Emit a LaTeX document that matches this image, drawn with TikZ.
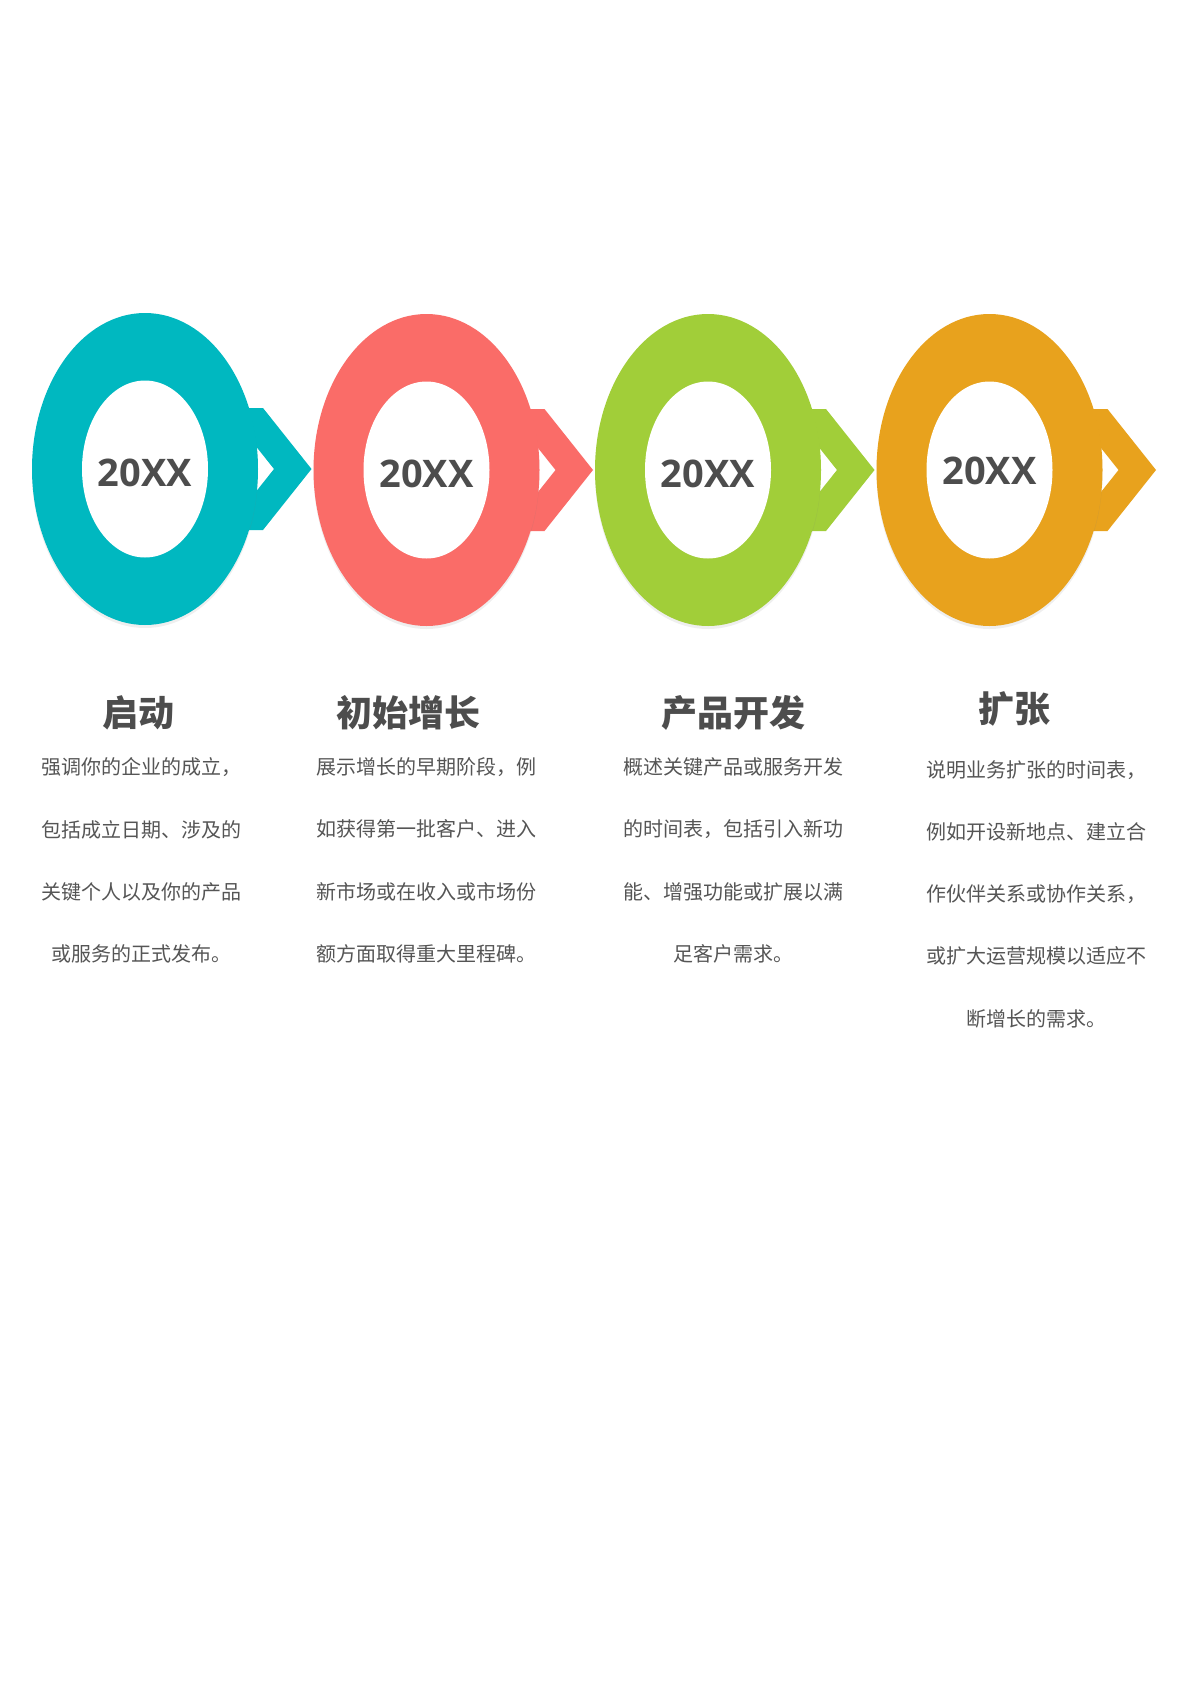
\documentclass[tikz,border=0pt]{standalone}
\usepackage{fontspec}
\newfontfamily\cjk{Noto Sans CJK SC}
\newfontfamily\yearfont{Open Sans}
\usetikzlibrary{shadows}
\definecolor{tealring}{RGB}{0,184,192}
\definecolor{salmonring}{RGB}{250,108,104}
\definecolor{limering}{RGB}{161,206,57}
\definecolor{amberring}{RGB}{232,162,29}
\definecolor{textgray}{RGB}{85,85,85}
\definecolor{titlegray}{RGB}{77,77,77}

\begin{document}
\begin{tikzpicture}[x=1pt,y=-1pt,line join=round,
  ring/.style={drop shadow={opacity=0.12,shadow xshift=0pt,shadow yshift=-3pt}},
  hole/.style={fill=white},
  yearlabel/.style={font=\yearfont\bfseries\fontsize{38}{46}\selectfont,text=titlegray,inner sep=0pt},
  stagetitle/.style={font=\cjk\bfseries\fontsize{36}{40}\selectfont,text=titlegray,inner sep=0pt},
  stagetext/.style={font=\cjk\fontsize{20}{62.3}\selectfont,text=textgray,align=center,inner sep=0pt}]
\useasboundingbox[fill=white] (0,0) rectangle (1191,1684);

\coordinate (c1) at (145,469);
\coordinate (c2) at (426.5,470);
\coordinate (c3) at (708,470);
\coordinate (c4) at (989.5,470);

% chevrons behind the rings
\fill[tealring] (c1) ++(80.5,-61) -- ++(37.5,0) -- ++(48.5,61) -- ++(-48.5,61) -- ++(-37.5,0) -- ++(48.5,-61) -- cycle;
\fill[salmonring] (c2) ++(80.5,-61) -- ++(37.5,0) -- ++(48.5,61) -- ++(-48.5,61) -- ++(-37.5,0) -- ++(48.5,-61) -- cycle;
\fill[limering] (c3) ++(80.5,-61) -- ++(37.5,0) -- ++(48.5,61) -- ++(-48.5,61) -- ++(-37.5,0) -- ++(48.5,-61) -- cycle;
\fill[amberring] (c4) ++(80.5,-61) -- ++(37.5,0) -- ++(48.5,61) -- ++(-48.5,61) -- ++(-37.5,0) -- ++(48.5,-61) -- cycle;

% rings
\fill[ring,tealring] (c1) ellipse [x radius=113, y radius=156];
\fill[hole] (c1) ellipse [x radius=63, y radius=88.5];
\fill[ring,salmonring] (c2) ellipse [x radius=113, y radius=156];
\fill[hole] (c2) ellipse [x radius=63, y radius=88.5];
\fill[ring,limering] (c3) ellipse [x radius=113, y radius=156];
\fill[hole] (c3) ellipse [x radius=63, y radius=88.5];
\fill[ring,amberring] (c4) ellipse [x radius=113, y radius=156];
\fill[hole] (c4) ellipse [x radius=63, y radius=88.5];

\node[yearlabel] (year1) at ([yshift=-4pt]c1) {20XX};
\node[yearlabel] (year2) at ([yshift=-4pt]c2) {20XX};
\node[yearlabel] (year3) at ([yshift=-4pt]c3) {20XX};
\node[yearlabel] (year4) at ([yshift=-1pt]c4) {20XX};

% titles
\node[stagetitle] (title1) at (138,712.5) {启动};
\node[stagetitle] (title2) at (408,712.5) {初始增长};
\node[stagetitle] (title3) at (733,712.5) {产品开发};
\node[stagetitle] (title4) at (1014,709) {扩张};

% descriptions
\node[stagetext] (text1) at (141.5,860.5) {强调你的企业的成立，\\包括成立日期、涉及的\\关键个人以及你的产品\\或服务的正式发布。};
\node[stagetext] (text2) at (426.5,860.5) {展示增长的早期阶段，例\\如获得第一批客户、进入\\新市场或在收入或市场份\\额方面取得重大里程碑。};
\node[stagetext] (text3) at (733,860.5) {概述关键产品或服务开发\\的时间表，包括引入新功\\能、增强功能或扩展以满\\足客户需求。};
\node[stagetext] (text4) at (1036.5,894) {说明业务扩张的时间表，\\例如开设新地点、建立合\\作伙伴关系或协作关系，\\或扩大运营规模以适应不\\断增长的需求。};
\end{tikzpicture}
\end{document}
